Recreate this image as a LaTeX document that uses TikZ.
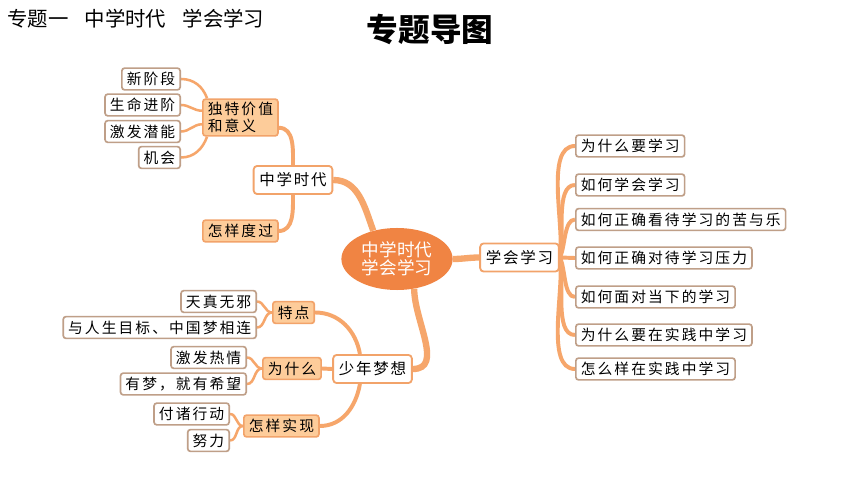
\documentclass[tikz,border=0pt]{standalone}
\usepackage{fontspec}
\newfontfamily\cjk{Noto Sans CJK SC}
\newfontfamily\cjkleaf[LetterSpace=14]{Noto Sans CJK SC}
\newfontfamily\cjkmain[LetterSpace=12]{Noto Sans CJK SC}
\usetikzlibrary{shapes.geometric,backgrounds}
\definecolor{branch}{HTML}{F6A66B}
\definecolor{peach}{HTML}{FDCC9A}
\definecolor{peachline}{HTML}{F2A36A}
\definecolor{leafline}{HTML}{BF9F88}
\definecolor{corefill}{HTML}{F08443}

\begin{document}
\begin{tikzpicture}[x=0.025cm,y=-0.025cm,
	leaf/.style={draw=leafline,line width=1.2pt,rounded corners=2pt,fill=white,
		font=\cjkleaf\fontsize{10.5}{12.5}\selectfont,inner xsep=3.5pt,inner ysep=1pt,minimum height=15.5pt},
	sub/.style={leaf,draw=peachline,fill=peach},
	topic/.style={draw=peachline,line width=1.3pt,rounded corners=2.5pt,fill=white,
		font=\cjkmain\fontsize{11}{13}\selectfont,inner xsep=4pt,minimum height=20pt},
	twig/.style={draw=branch,line width=1.8pt},
	limb/.style={draw=branch,line width=2.8pt},
	trunk/.style={draw=branch,line width=4.5pt}]
	\useasboundingbox (0,0) rectangle (860,484);
	% titles
	\node[anchor=west,inner sep=0pt,font=\cjk\fontsize{14.5}{16}\selectfont] (head) at (7,19) {专题一\hspace{0.8em}中学时代\hspace{0.8em}学会学习};
	\node[inner sep=0pt,font=\cjk\bfseries\fontsize{22.5}{24}\selectfont] (title) at (430,29) {专题导图};
	% centre
	\node[ellipse,fill=corefill,text=white,minimum width=2.78cm,minimum height=1.55cm,inner sep=0pt,
		align=center,font=\cjk\fontsize{12.5}{12.8}\selectfont] (core) at (397,259) {中学时代\\学会学习};
	% topics
	\node[topic] (zxsd) at (293,180) {中学时代};
	\node[topic] (xhxx) at (519.5,257.5) {学会学习};
	\node[topic] (snmx) at (372.5,369) {少年梦想};
	% 中学时代
	\node[sub,anchor=west,align=left,inner ysep=2pt] (dtjz) at (202,117.5) {独特价值\\和意义};
	\node[sub,anchor=west] (zydg) at (202,231) {怎样度过};
	\node[leaf,anchor=east] (xjd) at (181,79) {新阶段};
	\node[leaf,anchor=east] (smjj) at (181,105) {生命进阶};
	\node[leaf,anchor=east] (jfqn) at (181,131.5) {激发潜能};
	\node[leaf,anchor=east] (jh) at (181,157.5) {机会};
	% 学会学习
	\node[leaf,anchor=west] (r1) at (575,146) {为什么要学习};
	\node[leaf,anchor=west] (r2) at (575,185) {如何学会学习};
	\node[leaf,anchor=west] (r3) at (575,219.5) {如何正确看待学习的苦与乐};
	\node[leaf,anchor=west] (r4) at (575,258) {如何正确对待学习压力};
	\node[leaf,anchor=west] (r5) at (575,297) {如何面对当下的学习};
	\node[leaf,anchor=west] (r6) at (575,335) {为什么要在实践中学习};
	\node[leaf,anchor=west] (r7) at (575,369) {怎么样在实践中学习};
	% 少年梦想
	\node[sub,anchor=west] (td) at (272,312.5) {特点};
	\node[sub,anchor=west] (wsm) at (262,368.5) {为什么};
	\node[sub,anchor=west] (zysx) at (243,426) {怎样实现};
	\node[leaf,anchor=east] (tzwx) at (257,301.5) {天真无邪};
	\node[leaf,anchor=east] (zgm) at (257,327.5) {与人生目标、中国梦相连};
	\node[leaf,anchor=east] (jfrq) at (247,357.5) {激发热情};
	\node[leaf,anchor=east] (ymyx) at (247,384) {有梦，就有希望};
	\node[leaf,anchor=east] (fzxd) at (230,414) {付诸行动};
	\node[leaf,anchor=east] (nl) at (230,440.5) {努力};
	\begin{pgfonlayer}{background}
		\fill[white] (0,0) rectangle (860,484);
		\draw[trunk] (core.130) to[out=110,in=0] (zxsd.east);
		\draw[trunk] (core.east) to[out=0,in=180] (xhxx.west);
		\draw[trunk] (core.-60) to[out=-90,in=0] (snmx.east);
		\draw[limb] (zxsd.north) to[out=90,in=0] (dtjz.-15);
		\draw[limb] (zxsd.south) to[out=-90,in=0] (zydg.east);
		\draw[twig] (dtjz.150) to[out=110,in=0] (xjd.east);
		\draw[twig] (dtjz.170) to[out=180,in=0] (smjj.east);
		\draw[twig] (dtjz.190) to[out=180,in=0] (jfqn.east);
		\draw[twig] (dtjz.210) to[out=250,in=0] (jh.east);
		\draw[limb] (xhxx.east) to[out=80,in=180,looseness=.7] (r1.west);
		\draw[limb] (xhxx.east) to[out=75,in=180,looseness=.7] (r2.west);
		\draw[limb] (xhxx.east) to[out=60,in=180,looseness=.7] (r3.west);
		\draw[limb] (xhxx.east) -- (r4.west);
		\draw[limb] (xhxx.east) to[out=-60,in=180,looseness=.7] (r5.west);
		\draw[limb] (xhxx.east) to[out=-75,in=180,looseness=.7] (r6.west);
		\draw[limb] (xhxx.east) to[out=-80,in=180,looseness=.7] (r7.west);
		\draw[limb] (snmx.130) to[out=100,in=0] (td.east);
		\draw[limb] (snmx.west) -- (wsm.east);
		\draw[limb] (snmx.230) to[out=-100,in=0] (zysx.east);
		\draw[twig] (td.west) to[out=180,in=0] (tzwx.east);
		\draw[twig] (td.west) to[out=180,in=0] (zgm.east);
		\draw[twig] (wsm.west) to[out=180,in=0] (jfrq.east);
		\draw[twig] (wsm.west) to[out=180,in=0] (ymyx.east);
		\draw[twig] (zysx.west) to[out=180,in=0] (fzxd.east);
		\draw[twig] (zysx.west) to[out=180,in=0] (nl.east);
	\end{pgfonlayer}
\end{tikzpicture}
\end{document}
